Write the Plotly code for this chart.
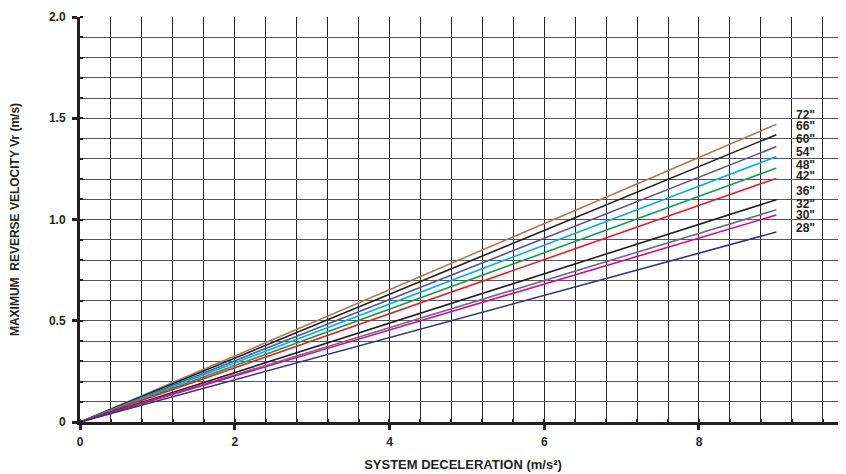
import plotly.graph_objects as go

sizes = ['72"', '66"', '60"', '54"', '48"', '42"', '36"', '32"', '30"', '28"']
end_values = [1.470, 1.419, 1.360, 1.310, 1.254, 1.203, 1.098, 1.048, 1.022, 0.938]
colors = ["#a97c50", "#231f20", "#5b5393", "#00aeef", "#00a651", "#ed1c24",
          "#231f20", "#5e6f88", "#ec008c", "#2e3192"]
label_y = [1.515, 1.46, 1.397, 1.332, 1.268, 1.213, 1.14, 1.077, 1.022, 0.958]
x_start, x_end = 0, 9
x_ticks = [0, 2, 4, 6, 8]
y_ticks = [0, 0.5, 1.0, 1.5, 2.0]
y_tick_text = ["0", "0.5", "1.0", "1.5", "2.0"]

FONT = "Liberation Sans Narrow, Arial Narrow, Arial, sans-serif"
INK = "#231f20"

fig = go.Figure()
for name, v, c in zip(sizes, end_values, colors):
    fig.add_trace(go.Scatter(x=[x_start, x_end], y=[0, v], mode="lines",
                             line=dict(color=c, width=1.6), name=name,
                             showlegend=False, hoverinfo="skip"))

for name, ly in zip(sizes, label_y):
    fig.add_annotation(x=9.23, y=ly, text=name, showarrow=False, xanchor="left",
                       yanchor="middle",
                       font=dict(family=FONT, size=12, color=INK, weight="bold"))

# page has an 8px body margin, so the figure is sized/offset to compensate
fig.update_layout(
    width=838, height=466,
    margin=dict(l=72, r=0, t=9, b=52),
    paper_bgcolor="white", plot_bgcolor="white",
    font=dict(family=FONT, color=INK),
    xaxis=dict(
        range=[0, 9.9], tickvals=x_ticks, ticktext=[str(t) for t in x_ticks],
        automargin=False,
        showgrid=True, gridcolor="#222", gridwidth=1,
        showline=True, linecolor=INK, linewidth=3, zeroline=False,
        ticks="outside", ticklen=5, tickwidth=3, tickcolor=INK,
        ticklabelstandoff=2,
        tickfont=dict(family=FONT, size=12, color=INK, weight="bold"),
        minor=dict(dtick=0.4, tick0=0, showgrid=True, gridcolor="#222", gridwidth=1,
                   ticks="inside", ticklen=3, tickwidth=2, tickcolor=INK),
        title=dict(text="SYSTEM DECELERATION (m/s²)", standoff=12,
                   font=dict(family=FONT, size=13, color=INK, weight="bold")),
    ),
    yaxis=dict(
        range=[0, 2.0], tickvals=y_ticks, ticktext=y_tick_text,
        automargin=False,
        showgrid=True, gridcolor="#555", gridwidth=1.2,
        showline=True, linecolor=INK, linewidth=3, zeroline=False,
        ticks="outside", ticklen=5, tickwidth=3, tickcolor=INK,
        ticklabelstandoff=4,
        tickfont=dict(family=FONT, size=12, color=INK, weight="bold"),
        minor=dict(dtick=0.1, tick0=0, showgrid=True, gridcolor="#555", gridwidth=1.2,
                   ticks="inside", ticklen=3, tickwidth=2, tickcolor=INK),
        title=dict(text="MAXIMUM  REVERSE VELOCITY Vr (m/s)", standoff=30,
                   font=dict(family=FONT, size=12, color=INK, weight="bold")),
    ),
)

fig.write_html("out.html")
